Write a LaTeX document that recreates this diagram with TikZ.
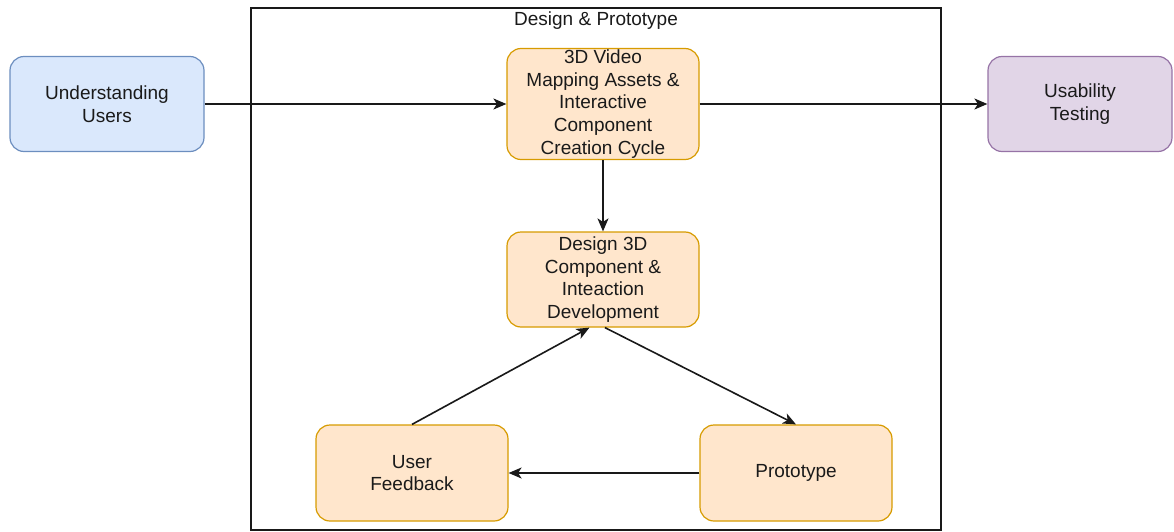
\documentclass[tikz,border=0pt]{standalone}
\usepackage{fontspec}
\setmainfont{Liberation Sans}
\usetikzlibrary{arrows.meta,calc}
\definecolor{bluefill}{HTML}{DAE8FC}
\definecolor{bluestroke}{HTML}{6C8EBF}
\definecolor{orfill}{HTML}{FFE6CC}
\definecolor{orstroke}{HTML}{D79B00}
\definecolor{pufill}{HTML}{E1D5E7}
\definecolor{pustroke}{HTML}{9673A6}
\definecolor{txt}{HTML}{1A1A1A}
\tikzset{
  box/.style={draw, rounded corners=14pt, line width=1.2pt, align=center,
    inner sep=0pt, text=txt, font=\fontsize{19}{22.7}\selectfont},
  bluebox/.style={box, fill=bluefill, draw=bluestroke, minimum width=194pt, minimum height=95pt},
  orbox/.style={box, fill=orfill, draw=orstroke, minimum width=192pt},
  pubox/.style={box, fill=pufill, draw=pustroke, minimum width=184pt, minimum height=95pt},
  arr/.style={line width=1.6pt, draw=black!90, -{Stealth[length=13pt,width=11pt,inset=3.5pt]}}
}
\begin{document}
\begin{tikzpicture}[x=1pt,y=-1pt]
\useasboundingbox (0,0) rectangle (1174,532);
\node[draw=black!90, line width=1.4pt, minimum width=690pt, minimum height=522pt, inner sep=0pt] (frame) at (596,269) {};
\node[text=txt, font=\fontsize{19}{22.7}\selectfont, inner sep=0pt] (title) at (596,21) {Design \& Prototype};
\node[bluebox] (uu) at (107,104) {Understanding\\Users};
\node[orbox, minimum height=111pt] (top) at (603,104) {3D Video\\Mapping Assets \&\\Interactive\\Component\\Creation Cycle};
\node[pubox] (ut) at (1080,104) {Usability\\Testing};
\node[orbox, minimum height=95pt] (des) at (603,279.5) {Design 3D\\Component \&\\Inteaction\\Development};
\node[orbox, minimum height=96pt] (uf) at (412,473) {User\\Feedback};
\node[orbox, minimum height=96pt] (pr) at (796,473) {Prototype};
\draw[arr] (uu.east) -- (top.west);
\draw[arr] (top.east) -- (ut.west);
\draw[arr] (top.south) -- (des.north);
\draw[arr] (uf.north) -- ($(des.south west)!0.43!(des.south east)$);
\draw[arr] ($(des.south west)!0.51!(des.south east)$) -- (pr.north);
\draw[arr] (pr.west) -- (uf.east);
\end{tikzpicture}
\end{document}
